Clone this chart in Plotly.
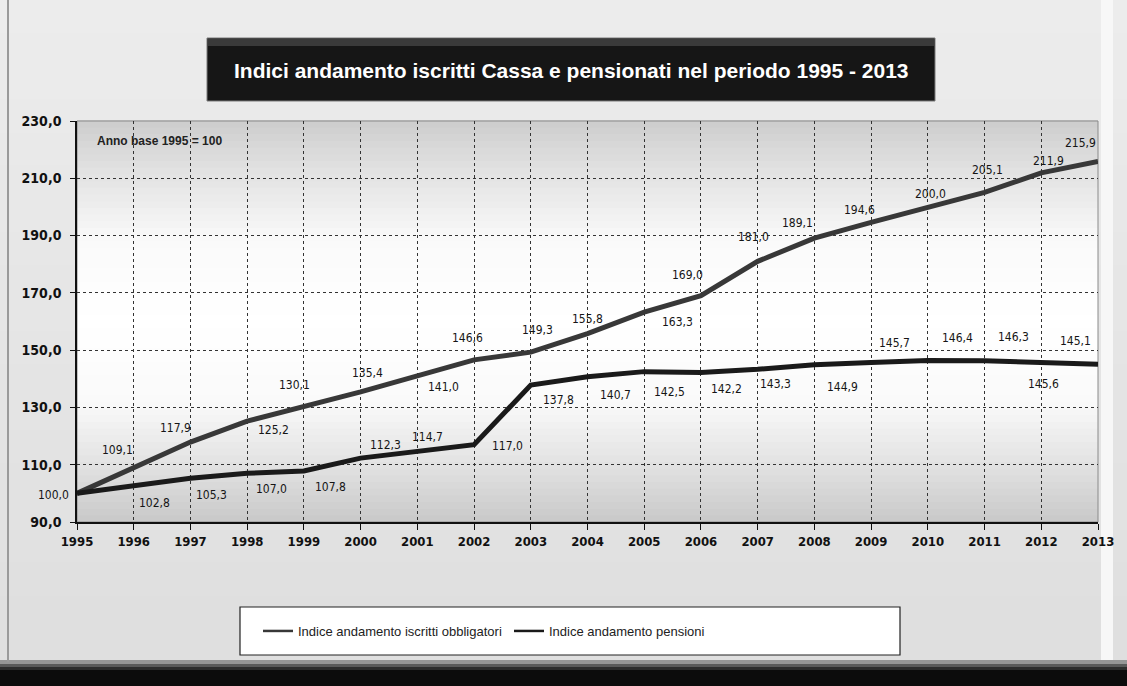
import plotly.graph_objects as go

# ---------------- data ----------------
years = list(range(1995, 2014))
iscritti = [100.0, 109.1, 117.9, 125.2, 130.1, 135.4, 141.0, 146.6, 149.3, 155.8,
            163.3, 169.0, 181.0, 189.1, 194.6, 200.0, 205.1, 211.9, 215.9]
pensioni = [100.0, 102.8, 105.3, 107.0, 107.8, 112.3, 114.7, 117.0, 137.8, 140.7,
            142.5, 142.2, 143.3, 144.9, 145.7, 146.4, 146.3, 145.6, 145.1]
series_names = ["Indice andamento iscritti obbligatori", "Indice andamento pensioni"]
title_text = "Indici andamento iscritti Cassa e pensionati nel periodo 1995 - 2013"
note_text = "Anno base 1995 = 100"
y_ticks = [90, 110, 130, 150, 170, 190, 210, 230]

# label offsets in pixels (style only): (dx, dy) with dy measured downward
off_up = [(-24, 2), (-16, -17), (-15, -14), (26, 9), (-9, -22), (7, -19), (26, 11),
          (-7, -22), (7, -22), (0, -15), (33, 10), (-13, -21), (-4, -24), (-17, -15),
          (-12, -12), (3, -13), (3, -22), (7, -12), (-18, -18)]
off_lo = [None, (21, 18), (21, 17), (24, 16), (27, 16), (25, -13), (10, -14), (33, 1),
          (28, 15), (28, 18), (25, 20), (26, 17), (18, 15), (28, 22), (23, -19),
          (30, -22), (29, -24), (2, 21), (-23, -23)]

W, H = 1127, 686
L, R, T, B = 77, 29, 121, 164
PW, PH = W - L - R, H - T - B


def px(xp):
    return (xp - L) / PW


def py(yp):
    return (H - B - yp) / PH


LABEL_FONT = dict(family="DejaVu Sans Condensed, DejaVu Sans, sans-serif", size=12, color="#151515")
NARROW = "Liberation Sans Narrow, Arial Narrow, Liberation Sans, sans-serif"

fig = go.Figure()
fig.add_trace(go.Scatter(x=years, y=iscritti, name=series_names[0], mode="lines",
                         line=dict(color="#383838", width=5), showlegend=False))
fig.add_trace(go.Scatter(x=years, y=pensioni, name=series_names[1], mode="lines",
                         line=dict(color="#1a1a1a", width=5), showlegend=False))
# legend-only entries (thin sample lines, as in the original legend)
fig.add_trace(go.Scatter(x=[None], y=[None], name=series_names[0], mode="lines",
                         line=dict(color="#383838", width=2.5)))
fig.add_trace(go.Scatter(x=[None], y=[None], name=series_names[1], mode="lines",
                         line=dict(color="#1a1a1a", width=2.5)))

annotations = []
for series, offs in ((iscritti, off_up), (pensioni, off_lo)):
    for yr, v, o in zip(years, series, offs):
        if o is None:
            continue
        annotations.append(dict(x=yr, y=v, xref="x", yref="y", showarrow=False,
                                text=f"{v:.1f}".replace(".", ","),
                                xshift=o[0], yshift=-o[1], font=LABEL_FONT))

shapes = []


def lerp(c1, c2, t):
    return tuple(int(round(a + (b - a) * t)) for a, b in zip(c1, c2))


# outer background: light vertical gradient
nb = 20
for i in range(nb):
    y0 = i * 662 / nb
    y1 = (i + 1) * 662 / nb + 0.5
    c = lerp((236, 236, 236), (222, 222, 222), i / nb)
    shapes.append(dict(type="rect", xref="paper", yref="paper", layer="below",
                       x0=px(0), x1=px(W), y0=py(y1), y1=py(y0),
                       fillcolor="rgb(%d,%d,%d)" % c, line=dict(width=0)))
# bottom dark shadow
sh = [(660, 664, (150, 150, 150)), (664, 667, (90, 90, 90)), (667, 670, (45, 45, 45)),
      (670, 686, (12, 12, 12))]
for a, b, c in sh:
    shapes.append(dict(type="rect", xref="paper", yref="paper", layer="below",
                       x0=px(0), x1=px(W), y0=py(b), y1=py(a),
                       fillcolor="rgb(%d,%d,%d)" % c, line=dict(width=0)))
# left frame line
shapes.append(dict(type="line", xref="paper", yref="paper", layer="below",
                   x0=px(8), x1=px(8), y0=py(662), y1=py(0),
                   line=dict(color="#9a9a9a", width=2)))
# right light strip
shapes.append(dict(type="rect", xref="paper", yref="paper", layer="below",
                   x0=px(1101), x1=px(1113), y0=py(660), y1=py(0),
                   fillcolor="#f7f7f7", line=dict(width=0)))

# plot area vertical gradient
stops = [(0.0, (200, 200, 200)), (0.12, (222, 222, 222)), (0.3, (250, 250, 250)),
         (0.5, (255, 255, 255)), (0.7, (250, 250, 250)), (0.88, (225, 225, 225)),
         (1.0, (205, 205, 205))]
n = 60


def col_at(t):
    for (t0, c0), (t1, c1) in zip(stops[:-1], stops[1:]):
        if t0 <= t <= t1:
            return lerp(c0, c1, (t - t0) / (t1 - t0))
    return stops[-1][1]


for i in range(n):
    y0 = i / n
    y1 = (i + 1) / n
    c = col_at((y0 + y1) / 2)
    shapes.append(dict(type="rect", xref="x domain", yref="y domain", layer="below",
                       x0=0, x1=1, y0=y0, y1=y1 + 0.002,
                       fillcolor="rgb(%d,%d,%d)" % c, line=dict(width=0)))
shapes.append(dict(type="rect", xref="x domain", yref="y domain", layer="below",
                   x0=0, x1=1, y0=0, y1=1, line=dict(color="#8a8a8a", width=1),
                   fillcolor="rgba(0,0,0,0)"))

# title box
shapes.append(dict(type="rect", xref="paper", yref="paper", layer="above",
                   x0=px(207), x1=px(935), y0=py(101), y1=py(38),
                   fillcolor="#161616", line=dict(color="#7a7a7a", width=1)))
shapes.append(dict(type="rect", xref="paper", yref="paper", layer="above",
                   x0=px(208), x1=px(934), y0=py(46), y1=py(39),
                   fillcolor="#3a3a3a", line=dict(width=0)))
# legend box
shapes.append(dict(type="rect", xref="paper", yref="paper", layer="above",
                   x0=px(240), x1=px(900), y0=py(655), y1=py(607),
                   fillcolor="white", line=dict(color="#222", width=1.2)))

annotations += [
    dict(text=title_text, xref="paper", yref="paper", x=px(571), y=py(70),
         xanchor="center", yanchor="middle", showarrow=False,
         font=dict(family=NARROW, size=21, color="white", weight="bold")),
    dict(text=note_text, xref="paper", yref="paper", x=px(95), y=py(141),
         xanchor="left", yanchor="middle", showarrow=False,
         font=dict(family=NARROW, size=12, color="#222", weight="bold")),
]

fig.update_layout(
    width=W, height=H,
    margin=dict(l=L, r=R, t=T, b=B, pad=0, autoexpand=False),
    paper_bgcolor="#e4e4e4",
    plot_bgcolor="rgba(0,0,0,0)",
    separators=",.",
    showlegend=True,
    hovermode=False,
    legend=dict(orientation="h", x=px(258), y=py(631), xanchor="left", yanchor="middle",
                bgcolor="rgba(0,0,0,0)", borderwidth=0, entrywidth=206,
                font=dict(family=NARROW, size=13, color="#222"), itemwidth=30),
    shapes=shapes,
    annotations=annotations,
    xaxis=dict(range=[1995, 2013], tickmode="array", tickvals=years,
               ticktext=[str(y) for y in years], showgrid=True,
               gridcolor="#333", griddash="dot", gridwidth=1,
               showline=True, linecolor="#111", linewidth=2,
               ticks="outside", ticklen=6, tickcolor="#111",
               tickfont=dict(family="DejaVu Sans Condensed, DejaVu Sans, sans-serif",
                             size=13, color="#111", weight="bold"),
               zeroline=False, fixedrange=True),
    yaxis=dict(range=[90, 230], tickvals=y_ticks, tickformat=".1f",
               showgrid=True, gridcolor="#333", griddash="dot", gridwidth=1,
               showline=True, linecolor="#111", linewidth=1.5,
               ticks="outside", ticklen=5, tickcolor="#111", ticklabelstandoff=6,
               tickfont=dict(family="DejaVu Sans Condensed, DejaVu Sans, sans-serif",
                             size=14, color="#111", weight="bold"),
               zeroline=False, fixedrange=True),
)

fig.write_html("out.html", config={"displayModeBar": False},
               post_script="document.body.style.margin='0';")
